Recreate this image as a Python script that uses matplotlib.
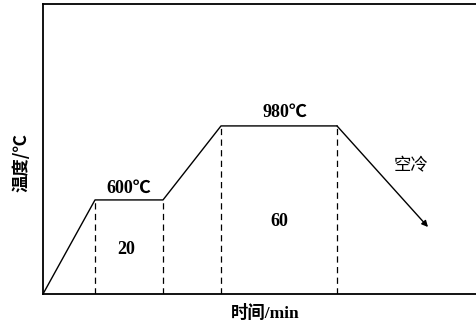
import matplotlib
matplotlib.use('Agg')
import matplotlib.pyplot as plt

# 热处理工艺曲线（示意）
time_pts = [0, 10.4, 24.0, 35.6, 58.8]
temp_pts = [117, 600, 600, 980, 980]
cool_end = (77.0, 461)          # 空冷箭头终点
hold_marks = [10.4, 24.0, 35.6, 58.8]
hold_temps = [600, 600, 980, 980]
hold_times = ['20', '60']
temp_labels = ['600℃', '980℃']

cjk = ['Noto Sans CJK SC', 'DejaVu Sans']
serif = ['Liberation Serif', 'Noto Sans CJK SC']

fig = plt.figure(figsize=(4.77, 3.24), dpi=100)
ax = fig.add_axes([43 / 477, 30 / 324, 434 / 477, 290 / 324])

ax.plot(time_pts, temp_pts, color='black', lw=1.0)
ax.annotate('', xy=cool_end, xytext=(time_pts[-1], temp_pts[-1]),
            arrowprops=dict(arrowstyle='-|>', color='black', lw=1.0,
                            mutation_scale=9, shrinkA=0, shrinkB=0))

for x, t in zip(hold_marks, hold_temps):
    ax.plot([x, x], [117, t], color='black', lw=0.9, dashes=(5, 3.5))

# 保温温度与时间标注
ax.text((time_pts[1] + time_pts[2]) / 2, 662, temp_labels[0], ha='center', va='center',
        family=serif, fontweight='bold', fontsize=13)
ax.text((time_pts[3] + time_pts[4]) / 2 + 1.2, 1052, temp_labels[1], ha='center', va='center',
        family=serif, fontweight='bold', fontsize=13)
ax.text((hold_marks[0] + hold_marks[1]) / 2 - 0.5, 343, hold_times[0], ha='center', va='center',
        family=serif, fontweight='bold', fontsize=13)
ax.text((hold_marks[2] + hold_marks[3]) / 2, 487, hold_times[1], ha='center', va='center',
        family=serif, fontweight='bold', fontsize=13)
ax.text(73.6, 780, '空冷', ha='center', va='center', family=cjk, fontsize=12.5)

ax.set_xlim(0, 86.8)
ax.set_ylim(117, 1606)
ax.set_xticks([])
ax.set_yticks([])
ax.spines['right'].set_visible(False)
for s in ['left', 'top', 'bottom']:
    ax.spines[s].set_linewidth(1.3)

fig.text(265 / 477, 1 - 313 / 324, '时间/min', ha='center', va='center',
         family=serif, fontweight='bold', fontsize=12.5)
fig.text(22 / 477, 1 - 163 / 324, '温度/℃', ha='center', va='center', rotation=90,
         family=cjk, fontweight='bold', fontsize=12.5)

fig.savefig('out.png', dpi=100)
